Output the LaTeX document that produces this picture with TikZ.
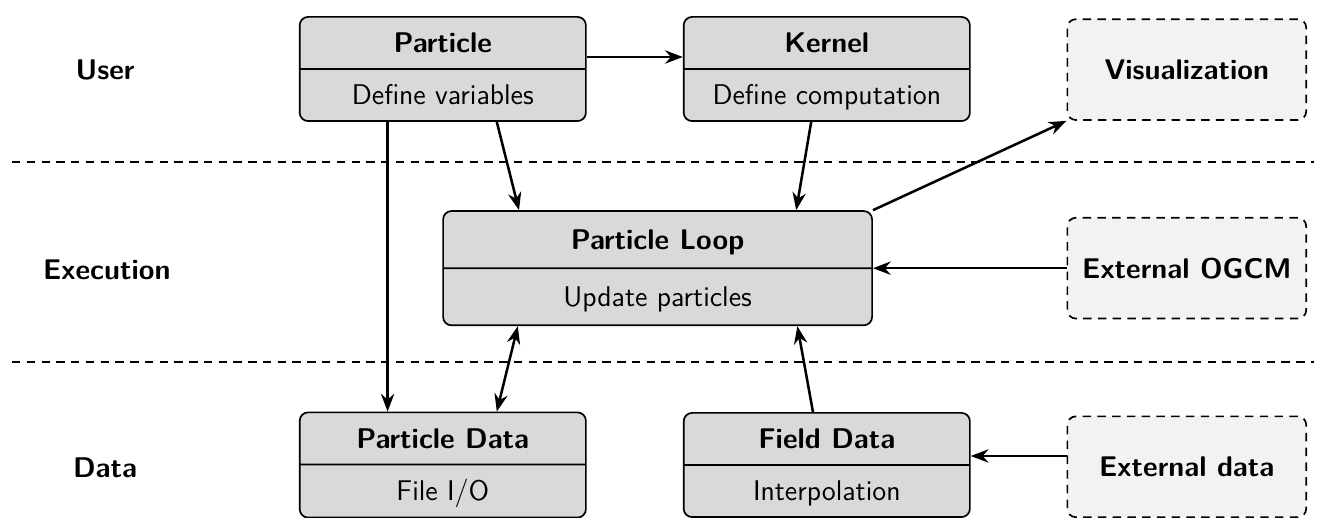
\documentclass[tikz,border=0pt]{standalone}
\usepackage{tikz}
\usetikzlibrary{shapes.multipart,arrows.meta}

\newcommand{\partstrut}{\rule[-2.9pt]{0pt}{15.1pt}}

\tikzset{
    block/.style={draw, line width=0.8pt, rounded corners=4pt, fill=gray!30,
        rectangle split, rectangle split parts=2,
        minimum width=4.77cm, inner ysep=4.4pt, text height=12.2pt, text depth=2.9pt,
        font=\sffamily\fontsize{13.5}{15.2}\selectfont},
    bigblock/.style={block, minimum width=7.15cm, inner ysep=5.6pt},
    extbox/.style={draw, line width=0.8pt, dash pattern=on 4pt off 3pt, rounded corners=4pt, fill=gray!10,
        minimum width=3.98cm, minimum height=1.68cm,
        font=\sffamily\bfseries\fontsize{13.5}{15.2}\selectfont},
    layer/.style={font=\sffamily\bfseries\fontsize{13.5}{15.2}\selectfont},
    arr/.style={-Stealth, line width=1.2pt},
}

\begin{document}
\begin{tikzpicture}
        \useasboundingbox (0,0) rectangle (22.117,-8.633);

        % layers
        \node[layer] (user) at (1.75,-1.17) {User};
        \node[layer] (exec) at (1.78,-4.5) {Execution};
        \node[layer] (data) at (1.75,-7.8) {Data};
        \draw[line width=0.8pt, dash pattern=on 4pt off 3pt] (0.2,-2.7) -- (21.9,-2.7);
        \draw[line width=0.8pt, dash pattern=on 4pt off 3pt] (0.2,-6.03) -- (21.9,-6.03);

        \node[block] (particle) at (7.38,-1.15) {\textbf{Particle}\nodepart{two}\partstrut Define variables};
        \node[block] (kernel) at (13.78,-1.15) {\textbf{Kernel}\nodepart{two}\partstrut Define computation};
        \node[extbox] (visual) at (19.78,-1.16) {Visualization};

        \node[bigblock] (loop) at (10.96,-4.47) {\textbf{Particle Loop}\nodepart{two}\partstrut Update particles};
        \node[extbox] (ogcm) at (19.78,-4.47) {External OGCM};

        \node[block] (pdata) at (7.38,-7.75) {\textbf{Particle Data}\nodepart{two}\partstrut File I/O};
        \node[block] (fdata) at (13.78,-7.75) {\textbf{Field Data}\nodepart{two}\partstrut Interpolation};
        \node[extbox] (extdata) at (19.78,-7.78) {External data};

        \draw[arr] ([yshift=0.2cm]particle.east) -- ([yshift=0.2cm]kernel.west);
        \draw[arr] ([xshift=-0.92cm]particle.south) -- ([xshift=-0.92cm]pdata.north);
        \draw[arr] ([xshift=0.9cm]particle.south) -- ([xshift=-2.31cm]loop.north);
        \draw[arr] ([xshift=-0.26cm]kernel.south) -- ([xshift=2.31cm]loop.north);
        \draw[arr] (loop.north east) -- (visual.south west);
        \draw[arr] (ogcm.west) -- (loop.east);
        \draw[arr, Stealth-Stealth] ([xshift=-2.33cm]loop.south) -- ([xshift=0.9cm]pdata.north);
        \draw[arr] ([xshift=-0.23cm]fdata.north) -- ([xshift=2.33cm]loop.south);
        \draw[arr] ([yshift=0.18cm]extdata.west) -- ([yshift=0.15cm]fdata.east);
    \end{tikzpicture}
\end{document}
